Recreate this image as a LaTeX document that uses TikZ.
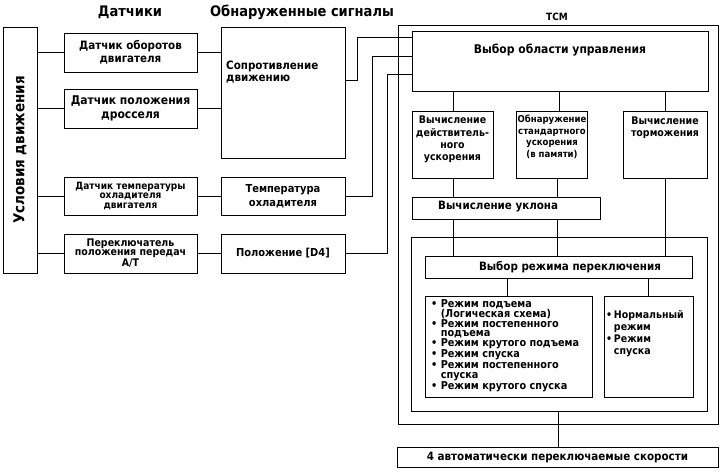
\documentclass[tikz,border=0pt]{standalone}
\usepackage{fontspec}
\setmainfont{DejaVu Sans Condensed}
\usetikzlibrary{calc, positioning}

% font size + bold
\newcommand{\fsz}[2]{\fontsize{#1}{#2}\selectfont\bfseries}

\begin{document}
\begin{tikzpicture}[x=1pt, y=-1pt,
    box/.style={draw, line width=0.9pt, inner sep=1pt, align=center},
    txt/.style={inner sep=0pt, align=center},
    conn/.style={line width=0.8pt}]

    \useasboundingbox (0,0) rectangle (722,474);

    % --- headers ---
    \node[txt, font=\fsz{14.5}{15}] (hsens) at (130,12) {Датчики};
    \node[txt, font=\fsz{14.5}{15}] (hsig) at (302,12) {Обнаруженные сигналы};
    \node[txt, font=\fsz{10}{11}] (htcm) at (557,17) {ТСМ};

    % --- driving conditions ---
    \node[box, minimum width=34pt, minimum height=246pt] (cond) at (20,150) {};
    \node[txt, rotate=90, font=\fsz{15}{16}] (condtxt) at (cond) {Условия движения};

    % --- sensors ---
    \node[box, minimum width=133pt, minimum height=39pt, font=\fsz{11.5}{13}] (s1) at (130.5,52.5) {Датчик оборотов\\двигателя};
    \node[box, minimum width=133pt, minimum height=39pt, font=\fsz{12}{14}] (s2) at (130.5,108.5) {Датчик положения\\дросселя};
    \node[box, minimum width=133pt, minimum height=38pt, font=\fsz{10}{9.5}] (s3) at (130.5,196) {Датчик температуры\\охладителя\\двигателя};
    \node[box, minimum width=133pt, minimum height=39pt, font=\fsz{10.5}{8}] (s4) at (130.5,253.5) {Переключатель\\положения передач\\A/T};

    % --- detected signals ---
    \node[box, minimum width=124pt, minimum height=131pt] (res) at (283,92.5) {};
    \node[txt, anchor=west, align=left, font=\fsz{11.5}{12}] (restxt) at (226,72) {Сопротивление\\движению};
    \node[box, minimum width=124pt, minimum height=38pt, font=\fsz{11}{14}] (temp) at (283,196) {Температура\\охладителя};
    \node[box, minimum width=124pt, minimum height=39pt, font=\fsz{11}{12}] (pos) at (283,253.5) {Положение [D4]};

    % --- TCM ---
    \node[box, minimum width=320pt, minimum height=399pt] (tcm) at (558,224.5) {};
    \node[box, minimum width=296pt, minimum height=60pt] (sel) at (560,61) {};
    \node[txt, font=\fsz{12}{13}] (seltxt) at (560,50) {Выбор области управления};

    \node[box, minimum width=81pt, minimum height=67pt] (A) at (452.5,144.5) {};
    \node[txt, anchor=north, font=\fsz{10.5}{12.3}] (Atxt) at (452.5,116) {Вычисление\\действитель-\\ного\\ускорения};
    \node[box, minimum width=71pt, minimum height=67pt] (B) at (552,144.5) {};
    \node[txt, anchor=north, font=\fsz{9.5}{11.5}] (Btxt) at (552,115) {Обнаружение\\стандартного\\ускорения\\(в памяти)};
    \node[box, minimum width=84pt, minimum height=67pt] (C) at (665,144.5) {};
    \node[txt, anchor=north, font=\fsz{10.5}{12}] (Ctxt) at (665,117) {Вычисление\\торможения};

    \node[box, minimum width=188pt, minimum height=22pt] (ukl) at (506,208) {};
    \node[txt, anchor=west, font=\fsz{11.5}{12}] (ukltxt) at (438,207) {Вычисление уклона};

    \node[box, minimum width=296pt, minimum height=174pt] (cont) at (559,324) {};
    \node[box, minimum width=267pt, minimum height=22pt] (rej) at (558.5,267) {};
    \node[txt, font=\fsz{11.5}{12}] (rejtxt) at (570,267) {Выбор режима переключения};

    \node[box, minimum width=167pt, minimum height=101pt] (L) at (508.5,346.5) {};
    \node[txt, anchor=north west, align=left, font=\fsz{10.8}{9.5}] (Ltxt) at (431,299)
        {•\ Режим подъема\\\hphantom{•\ }(Логическая схема)\\•\ Режим постепенного\\\hphantom{•\ }подъема\\•\ Режим крутого подъема\\•\ Режим спуска\\•\ Режим постепенного\\\hphantom{•\ }спуска\\•\ Режим крутого спуска};
    \node[box, minimum width=89pt, minimum height=101pt] (R) at (648.5,346.5) {};
    \node[txt, anchor=north west, align=left, font=\fsz{10.5}{12}] (Rtxt) at (606,310)
        {•\,Нормальный\\\hphantom{•\,}режим\\•\,Режим\\\hphantom{•\,}спуска};

    \node[box, minimum width=321pt, minimum height=20pt, font=\fsz{11.5}{12}] (fin) at (557.5,457) {4 автоматически переключаемые скорости};

    % --- connectors, left part ---
    \foreach \s in {s1,s2,s3,s4}
        \draw[conn] (cond.east |- \s.west) -- (\s.west);
    \draw[conn] (s1.east) -- (res.west |- s1.east);
    \draw[conn] (s2.east) -- (res.west |- s2.east);
    \draw[conn] (s3.east) -- (temp.west);
    \draw[conn] (s4.east) -- (pos.west);

    % signals into TCM
    \draw[conn] (res.east |- 0,80) -| (357,37) -- (sel.west |- 0,37);
    \draw[conn] (temp.east) -| (372,56) -- (sel.west |- 0,56);
    \draw[conn] (pos.east) -| (387,74) -- (sel.west |- 0,74);

    % --- connectors inside TCM ---
    \foreach \x/\n in {453/A, 559/B, 665/C}
        \draw[conn] (sel.south -| \x,0) -- (\n.north -| \x,0);
    \foreach \x/\n in {453/A, 557/B}
        \draw[conn] (\n.south -| \x,0) -- (ukl.north -| \x,0);
    \foreach \x in {453, 557}
        \draw[conn] (ukl.south -| \x,0) -- (rej.north -| \x,0);
    \draw[conn] (C.south -| 665,0) -- (rej.north -| 665,0);
    \draw[conn] (rej.south -| 507,0) -- (L.north -| 507,0);
    \draw[conn] (rej.south -| 648,0) -- (R.north -| 648,0);
    \draw[conn] (cont.south -| 558,0) -- (fin.north -| 558,0);

\end{tikzpicture}
\end{document}
